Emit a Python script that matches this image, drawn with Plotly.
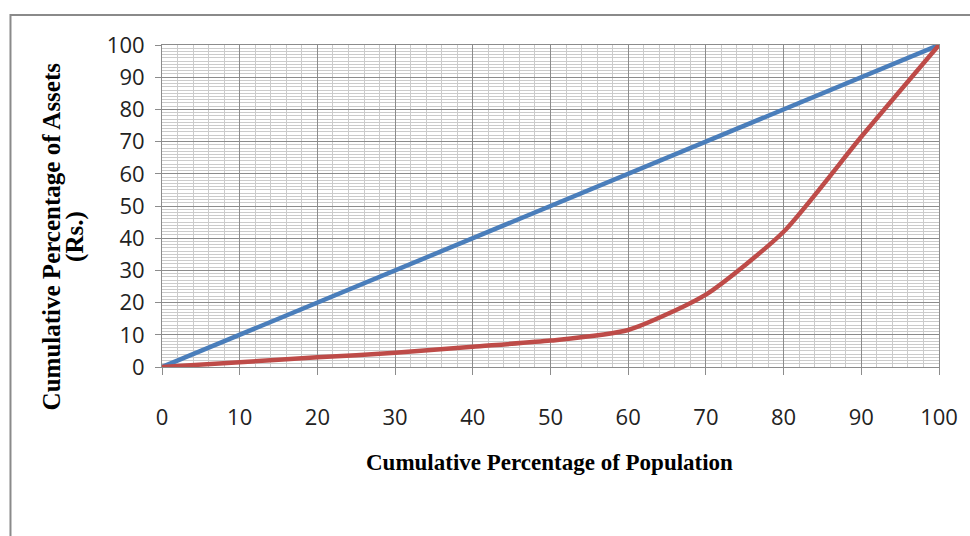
import plotly.graph_objects as go

# Cumulative percentage of population (x) and assets (y)
population_pct = [0, 10, 20, 30, 40, 50, 60, 70, 80, 90, 100]
equality_line = [0, 10, 20, 30, 40, 50, 60, 70, 80, 90, 100]
lorenz_curve = [0, 1.5, 3.0, 4.4, 6.3, 8.2, 11.5, 22.5, 42.0, 71.5, 100]

BLUE = "#4A7EBB"
RED = "#BE4B48"
MAJOR_GRID = "#8C8C8C"
MINOR_GRID = "#CBCBCB"

fig = go.Figure()
fig.add_trace(go.Scatter(
    x=population_pct, y=equality_line, mode="lines",
    line=dict(color=BLUE, width=4.5), showlegend=False,
))
fig.add_trace(go.Scatter(
    x=population_pct, y=lorenz_curve, mode="lines",
    line=dict(color=RED, width=4.5, shape="spline", smoothing=0.6), showlegend=False,
))

tick_font = dict(family="Open Sans", size=22, color="#222222")
x_title_font = dict(family="Liberation Serif", size=23, color="#000000")
y_title_font = dict(family="Liberation Serif", size=25, color="#000000")

fig.update_xaxes(
    range=[0, 100], tickmode="linear", tick0=0, dtick=10,
    ticks="outside", ticklen=7, tickcolor=MAJOR_GRID, ticklabelstandoff=24,
    showgrid=True, gridcolor=MAJOR_GRID, gridwidth=1,
    minor=dict(tickmode="linear", tick0=0, dtick=2, showgrid=True,
               gridcolor=MINOR_GRID, gridwidth=1),
    showline=True, linecolor=MAJOR_GRID, linewidth=1, mirror=True,
    zeroline=False, tickfont=tick_font, fixedrange=True,
)
fig.update_yaxes(
    range=[0, 100], tickmode="linear", tick0=0, dtick=10,
    ticks="outside", ticklen=6, tickcolor=MAJOR_GRID, ticklabelstandoff=6,
    showgrid=True, gridcolor=MAJOR_GRID, gridwidth=1,
    minor=dict(tickmode="linear", tick0=0, dtick=1, showgrid=True,
               gridcolor=MINOR_GRID, gridwidth=1),
    showline=True, linecolor=MAJOR_GRID, linewidth=1, mirror=True,
    zeroline=False, tickfont=tick_font, fixedrange=True,
)

annotations = [
    dict(text="<b>Cumulative Percentage of Population</b>", x=0.4987, y=-0.298,
         xref="paper", yref="paper", showarrow=False, font=x_title_font,
         xanchor="center", yanchor="middle"),
    dict(text="<b>Cumulative Percentage of Assets</b>", x=-0.141, y=0.407,
         xref="paper", yref="paper", showarrow=False, font=y_title_font,
         textangle=-90, xanchor="center", yanchor="middle"),
    dict(text="<b>(Rs.)</b>", x=-0.112, y=0.407,
         xref="paper", yref="paper", showarrow=False, font=y_title_font,
         textangle=-90, xanchor="center", yanchor="middle"),
]

# Chart-area frame around the whole figure
shapes = [
    dict(type="rect", xref="paper", yref="paper",
         x0=-0.195, x1=1.2, y0=-0.7, y1=1.093,
         line=dict(color="#8A8A8A", width=2), layer="below"),
]

fig.update_layout(
    width=970, height=536,
    margin=dict(l=162, r=28, t=45, b=169),
    paper_bgcolor="white", plot_bgcolor="white",
    annotations=annotations, shapes=shapes,
)

fig.write_html("out.html")
